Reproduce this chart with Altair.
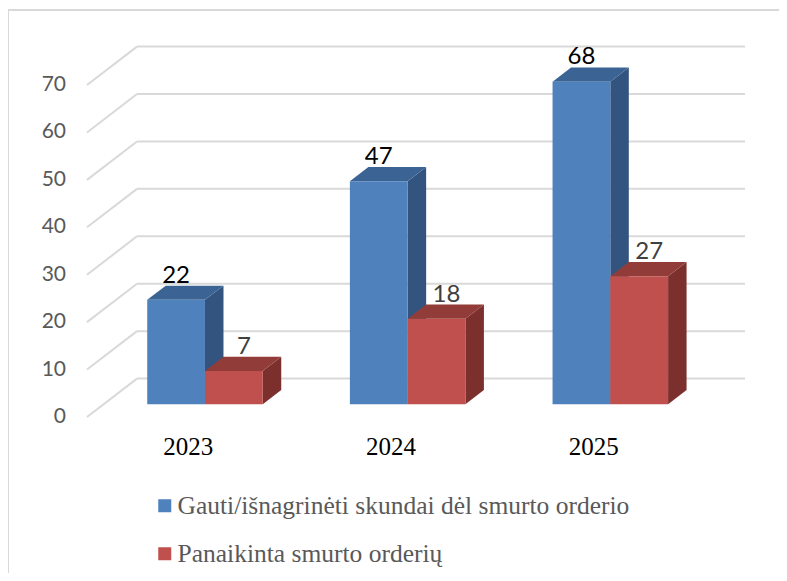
import altair as alt
import pandas as pd

# ---------------- data ----------------
years = ["2023", "2024", "2025"]
received = [22, 47, 68]
revoked = [7, 18, 27]
series_names = [
    "Gauti/išnagrinėti skundai dėl smurto orderio",
    "Panaikinta smurto orderių",
]
y_ticks = [0, 10, 20, 30, 40, 50, 60, 70]

# ---------------- style / 3D geometry ----------------
FLOOR_DX = 0.2467   # depth shift of the floor, in category units
FLOOR_DY = 8.1      # depth shift of the floor, in value units
BAR_FRONT = 0.333   # bar front plane (fraction of depth)
BAR_DEPTH = 0.37    # bar depth (fraction of depth)
BAR_W = 0.285       # bar width in category units

front_colors = ["#4F81BD", "#C0504D"]
top_colors = ["#3B6495", "#923C3A"]
side_colors = ["#33547F", "#7B302E"]
label_colors = ["#000000", "#404040"]
label_dx = [0, 10]
GRID = "#D9D9D9"

xs = alt.Scale(domain=[0, 3], range=[79, 687], nice=False, zero=False)
ys = alt.Scale(domain=[0, 70], range=[409, 77], nice=False, zero=False)

# ---------------- derived tables ----------------
bdx = FLOOR_DX * BAR_DEPTH
bdy = FLOOR_DY * BAR_DEPTH
y0 = FLOOR_DY * BAR_FRONT

bars, sides, tops = [], [], []
for s, vals in enumerate([received, revoked]):
    for i, (yr, v) in enumerate(zip(years, vals)):
        xl = i + 0.5 + FLOOR_DX * BAR_FRONT + (s - 1) * BAR_W
        xr = xl + BAR_W
        top = v + y0
        key = f"{yr}-{s}"
        bars.append(dict(series=series_names[s], s=s, year=yr, v=v, xl=xl, xr=xr,
                         xc=(xl + xr) / 2, y0=y0, top=top, lab=top + bdy))
        for t in (0, 1):
            sides.append(dict(s=s, key=key, x=xr + t * bdx, y=top + t * bdy, y2=y0 + t * bdy))
            tops.append(dict(s=s, key=key, y=top + t * bdy, x=xl + t * bdx, x2=xr + t * bdx))
bars = pd.DataFrame(bars)
sides = pd.DataFrame(sides)
tops = pd.DataFrame(tops)

grid = pd.DataFrame(dict(v=y_ticks))
grid["xb"] = FLOOR_DX
grid["xe"] = 3 + FLOOR_DX
grid["yb"] = grid["v"] + FLOOR_DY
grid["x0"] = 0.0
grid["lab"] = grid["v"].astype(str)

cats = pd.DataFrame(dict(year=years, x=[i + 0.5 for i in range(len(years))], y=[0] * len(years)))

# ---------------- layers ----------------
frame_top = alt.Chart(pd.DataFrame({"a": [0]})).mark_rule(color=GRID, strokeWidth=2).encode(
    x=alt.value(0), x2=alt.value(771), y=alt.value(2))
frame_left = alt.Chart(pd.DataFrame({"a": [0]})).mark_rule(color=GRID, strokeWidth=2).encode(
    x=alt.value(0), y=alt.value(2), y2=alt.value(565))

back_lines = alt.Chart(grid).mark_rule(color=GRID, strokeWidth=2).encode(
    x=alt.X("xb:Q", scale=xs, axis=None), x2="xe:Q",
    y=alt.Y("yb:Q", scale=ys, axis=None), y2="yb:Q")
diag_lines = alt.Chart(grid).mark_rule(color=GRID, strokeWidth=2).encode(
    x=alt.X("x0:Q", scale=xs, axis=None), x2="xb:Q",
    y=alt.Y("v:Q", scale=ys, axis=None), y2="yb:Q")
tick_labels = alt.Chart(grid).mark_text(
    align="right", baseline="middle", dx=-21, font="Lato", fontSize=21, color="#595959").encode(
    x=alt.X("x0:Q", scale=xs, axis=None), y=alt.Y("v:Q", scale=ys, axis=None), text="lab:N")
cat_labels = alt.Chart(cats).mark_text(
    align="center", baseline="middle", dy=30, font="Liberation Serif", fontSize=25, color="#000000").encode(
    x=alt.X("x:Q", scale=xs, axis=None), y=alt.Y("y:Q", scale=ys, axis=None), text="year:N")

face_layers = []
for s in (0, 1):
    side = alt.Chart(sides[sides.s == s]).mark_area(color=side_colors[s], orient="vertical").encode(
        x=alt.X("x:Q", scale=xs, axis=None),
        y=alt.Y("y:Q", scale=ys, axis=None), y2="y2:Q", detail="key:N")
    topf = alt.Chart(tops[tops.s == s]).mark_area(color=top_colors[s], orient="horizontal").encode(
        y=alt.Y("y:Q", scale=ys, axis=None),
        x=alt.X("x:Q", scale=xs, axis=None), x2="x2:Q", detail="key:N")
    face_layers += [side, topf]

fronts = alt.Chart(bars).mark_rect().encode(
    x=alt.X("xl:Q", scale=xs, axis=None), x2="xr:Q",
    y=alt.Y("y0:Q", scale=ys, axis=None), y2="top:Q",
    color=alt.Color("series:N", scale=alt.Scale(domain=series_names, range=front_colors),
                    sort=series_names,
                    legend=alt.Legend(title=None, orient="none", legendX=144, legendY=485,
                                      direction="vertical", symbolType="square", symbolSize=169,
                                      symbolStrokeWidth=0, labelFont="Liberation Serif",
                                      labelFontSize=25.5, labelColor="#595959", labelOffset=0,
                                      rowPadding=21, labelLimit=700, padding=0)))

value_labels = []
for s in (0, 1):
    value_labels.append(alt.Chart(bars[bars.s == s]).mark_text(
        align="center", baseline="alphabetic", dy=-3, dx=label_dx[s],
        font="Lato", fontSize=24, color=label_colors[s]).encode(
        x=alt.X("xc:Q", scale=xs, axis=None), y=alt.Y("lab:Q", scale=ys, axis=None), text="v:Q"))

chart = alt.layer(
    frame_top, frame_left, back_lines, diag_lines, tick_labels, cat_labels,
    *face_layers, fronts, *value_labels
).properties(
    width=771, height=565, padding=0,
    autosize=alt.AutoSizeParams(type="none"),
    background="white",
).configure_view(stroke=None)

chart.save("out.html", embed_options={"renderer": "svg", "actions": False})
